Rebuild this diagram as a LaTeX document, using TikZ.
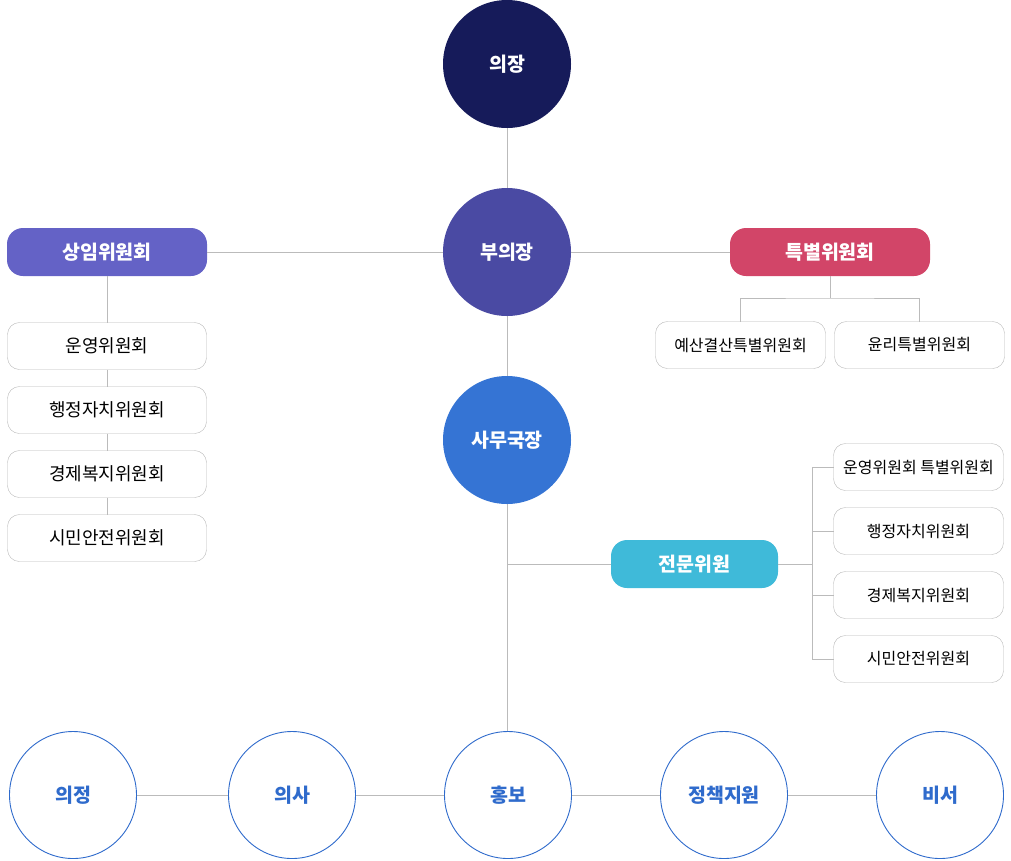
\documentclass[tikz,border=0pt]{standalone}
\usepackage{fontspec}
\setmainfont{Noto Sans CJK KR}
\usetikzlibrary{positioning}

\definecolor{chairnavy}{HTML}{161B5A}
\definecolor{vicepurple}{HTML}{4A4AA3}
\definecolor{officeblue}{HTML}{3574D4}
\definecolor{standviolet}{HTML}{6462C6}
\definecolor{specialred}{HTML}{D24568}
\definecolor{expertcyan}{HTML}{3FBAD9}
\definecolor{teamblue}{HTML}{2F6BCC}
\definecolor{linegray}{HTML}{BBBBBB}
\definecolor{boxgray}{HTML}{B8B8B8}

\begin{document}
\begin{tikzpicture}[
            x=1pt, y=-1pt,
            headcircle/.style={circle, minimum size=128pt, inner sep=0pt, outer sep=0pt, text=white, font=\fontsize{19.5}{21}\selectfont\bfseries},
            teamcircle/.style={circle, draw=teamblue, line width=0.9pt, fill=white, minimum size=127pt, inner sep=0pt, outer sep=0pt, text=teamblue, font=\fontsize{19.5}{21}\selectfont\bfseries},
            groupbox/.style={rounded corners=16pt, minimum width=200pt, minimum height=48pt, inner sep=0pt, outer sep=0pt, text=white, font=\fontsize{19.5}{21}\selectfont\bfseries},
            leftbox/.style={draw=boxgray, rounded corners=12pt, fill=white, minimum width=199pt, minimum height=47pt, inner sep=0pt, outer sep=0pt, font=\fontsize{18}{20}\selectfont},
            rightbox/.style={draw=boxgray, rounded corners=12pt, fill=white, minimum width=170pt, minimum height=47pt, inner sep=0pt, outer sep=0pt, font=\fontsize{16}{18}\selectfont},
            link/.style={draw=linegray, line width=1pt},
            node distance=17pt
        ]
        \useasboundingbox (0,0) rectangle (1011,860);

        % top line
        \draw[link] (507,64) -- (507,795);

        \node[headcircle, fill=chairnavy] (chair) at (507,64) {의장};
        \node[headcircle, fill=vicepurple] (vice) at (507,252) {부의장};
        \node[headcircle, fill=officeblue] (office) at (507,440) {사무국장};

        \node[groupbox, fill=standviolet] (standing) at (107,252) {상임위원회};
        \node[groupbox, fill=specialred] (special) at (830,252) {특별위원회};

        \draw[link] (standing.east) -- (vice.west);
        \draw[link] (vice.east) -- (special.west);

        % standing committees
        \node[leftbox, below=46.5pt of standing] (opsL) {운영위원회};
        \node[leftbox, below=of opsL] (adminL) {행정자치위원회};
        \node[leftbox, below=of adminL] (econL) {경제복지위원회};
        \node[leftbox, below=of econL] (safeL) {시민안전위원회};

        \draw[link] (standing.south) -- (opsL.north);
        \draw[link] (opsL.south) -- (adminL.north);
        \draw[link] (adminL.south) -- (econL.north);
        \draw[link] (econL.south) -- (safeL.north);

        % special committees
        \node[rightbox] (budget) at (740.5,345) {예산결산특별위원회};
        \node[rightbox] (ethics) at (919.5,345) {윤리특별위원회};
        \coordinate (splitS) at (830,298);

        \draw[link] (special.south) -- (splitS);
        \draw[link] (budget.north) |- (splitS) -| (ethics.north);

        % expert staff
        \node[groupbox, fill=expertcyan, minimum width=167pt] (expert) at (694.5,564) {전문위원};
        \coordinate (officeS) at (507,564);
        \coordinate (splitE) at (812,564);
        \draw[link] (officeS) -- (expert.west);
        \draw[link] (expert.east) -- (splitE);

        \node[rightbox] (opsR) at (918.5,467) {운영위원회 특별위원회};
        \node[rightbox] (adminR) at (918.5,531) {행정자치위원회};
        \node[rightbox] (econR) at (918.5,595) {경제복지위원회};
        \node[rightbox] (safeR) at (918.5,659) {시민안전위원회};

        \foreach \b in {opsR, adminR, econR, safeR}
            \draw[link] (\b.west) -- (splitE |- \b.west);
        \draw[link] (splitE |- opsR.west) -- (splitE |- safeR.west);

        % teams
        \draw[link] (73,795) -- (940,795);
        \node[teamcircle] (agenda) at (73,795) {의정};
        \node[teamcircle] (proceed) at (292,795) {의사};
        \node[teamcircle] (press) at (508,795) {홍보};
        \node[teamcircle] (policy) at (724,795) {정책지원};
        \node[teamcircle] (secretary) at (940,795) {비서};

    \end{tikzpicture}
\end{document}
